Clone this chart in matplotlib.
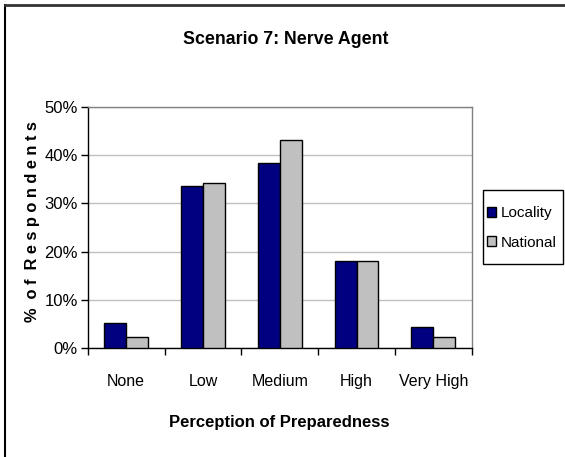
import numpy as np
import matplotlib
matplotlib.use('Agg')
import matplotlib.pyplot as plt
from matplotlib.lines import Line2D
from matplotlib.patches import Rectangle
from matplotlib.ticker import FuncFormatter

plt.rcParams['font.family'] = ['Liberation Sans', 'DejaVu Sans']

# Данные
categories = ['None', 'Low', 'Medium', 'High', 'Very High']
locality = [5.1, 33.7, 38.4, 18.0, 4.4]
national = [2.3, 34.3, 43.2, 18.0, 2.3]
series_names = ['Locality', 'National']

W, H = 565, 457
fig = plt.figure(figsize=(W / 100, H / 100), dpi=100)
ax = fig.add_axes([87.7 / W, 1 - 348 / H, 384 / W, 241 / H])

x = np.arange(len(categories))
bw = 1 / 3.5
ax.bar(x - bw / 2, locality, bw, color='#000080', edgecolor='black', linewidth=1,
       label=series_names[0], zorder=3)
ax.bar(x + bw / 2, national, bw, color='#C0C0C0', edgecolor='black', linewidth=1,
       label=series_names[1], zorder=3)

# Оси
ax.set_xlim(-0.5, len(categories) - 0.5)
ax.set_ylim(0, 50)
ax.set_yticks(np.arange(0, 51, 10))
ax.yaxis.set_major_formatter(FuncFormatter(lambda v, p: f'{v:.0f}%'))
ax.set_xticks(x)
ax.set_xticklabels(categories)
ax.set_xticks(np.arange(-0.5, len(categories), 1), minor=True)
ax.tick_params(axis='x', which='major', length=0, pad=19, labelsize=11.5)
ax.tick_params(axis='x', which='minor', length=5, width=1, direction='out')
ax.tick_params(axis='y', length=5, width=1, direction='out', pad=2, labelsize=12)
ax.grid(axis='y', color='#BFBFBF', linewidth=1, zorder=0)

for s in ['left', 'bottom']:
    ax.spines[s].set_color('black')
    ax.spines[s].set_linewidth(1)
for s in ['top', 'right']:
    ax.spines[s].set_color('#808080')
    ax.spines[s].set_linewidth(1)

# Подписи
fig.text(286 / W, 1 - 39 / H, 'Scenario 7: Nerve Agent', ha='center', va='center',
         fontsize=12.8, fontweight='bold')
fig.text(279 / W, 1 - 422 / H, 'Perception of Preparedness', ha='center', va='center',
         fontsize=12, fontweight='bold')
fig.text(33 / W, 1 - 222 / H, '%  o f  R e s p o n d e n t s', ha='center', va='center',
         rotation=90, fontsize=11.8, fontweight='bold')

# Легенда (рамка рисуется отдельно)
leg = fig.legend(loc='center left', bbox_to_anchor=(484 / W, 1 - 228 / H),
                 fontsize=11, frameon=False, handlelength=0.6,
                 handleheight=0.6, handletextpad=0.3, borderpad=0.2, labelspacing=1.0,
                 borderaxespad=0)
fig.add_artist(Rectangle((483 / W, 1 - 264 / H), 80 / W, 74 / H, transform=fig.transFigure,
                         fill=False, edgecolor='black', linewidth=1))

# Рамка
fig.add_artist(Line2D([4.5 / W, 4.5 / W], [0, 1 - 5 / H], color='black', linewidth=1.5))
fig.add_artist(Line2D([4.5 / W, 1], [1 - 5 / H, 1 - 5 / H], color='#333333', linewidth=2))

fig.savefig('out.png', dpi=100)
